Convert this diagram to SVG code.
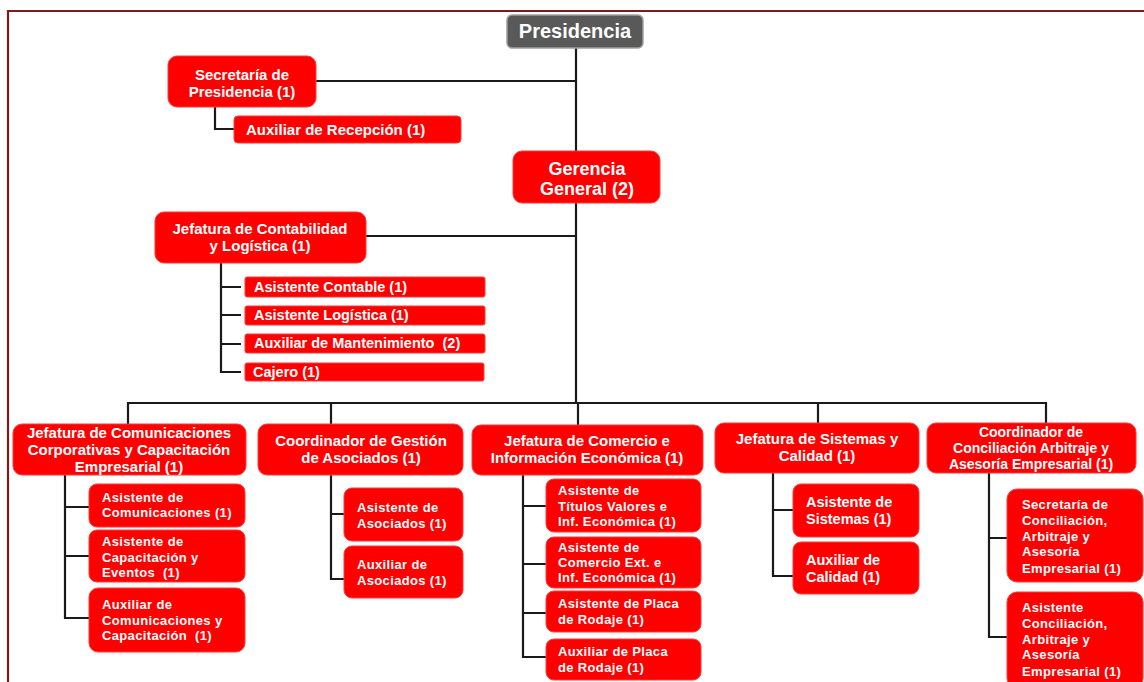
<svg xmlns="http://www.w3.org/2000/svg" width="1144" height="682" viewBox="0 0 1144 682">
<style>
.bg{fill:#ffffff}
.frame{fill:none;stroke:#7b1c1c;stroke-width:2.2}
.ln{fill:none;stroke:#1a1a1a;stroke-width:2.2}
.box{fill:#ff0000;stroke:#ff3a3a;stroke-width:1}
.pres{fill:#595959;stroke:#a0a0a0;stroke-width:1.5}
text{font-family:"Liberation Sans",Arial,sans-serif;font-weight:bold;fill:#ffffff}
.t15{font-size:15px;text-anchor:middle}
.t14{font-size:14px;text-anchor:middle}
.big{font-size:18px;text-anchor:middle}
.list{font-size:14.5px}
.sub{font-size:13px;letter-spacing:0.35px}
.sub2{font-size:14.5px}
</style>
<rect class="bg" x="0" y="0" width="1144" height="682"/>
<path class="frame" d="M8 682 V11 H1144"/>

<g id="connectors">
<path class="ln" d="M576 48 V403"/>
<path class="ln" d="M316 81 H576"/>
<path class="ln" d="M215 107 V129 H234"/>
<path class="ln" d="M366 236 H576"/>
<path class="ln" d="M221 263 V372 H241 M221 287 H241 M221 315 H241 M221 344 H241"/>
<path class="ln" d="M128 424 V403 H1046 V423"/>
<path class="ln" d="M331 403 V424"/>
<path class="ln" d="M578 403 V425"/>
<path class="ln" d="M818 403 V423"/>
<path class="ln" d="M65 475 V618 H89 M65 507 H89 M65 556 H89"/>
<path class="ln" d="M331 475 V579 H344 M331 514 H344"/>
<path class="ln" d="M523 475 V657 H546 M523 506 H546 M523 564 H546 M523 613 H546"/>
<path class="ln" d="M773 473 V576 H793 M773 510 H793"/>
<path class="ln" d="M989 473 V637 H1007 M989 538 H1007"/>
</g>

<g id="presidencia">
<rect class="pres" x="507" y="15" width="136" height="33" rx="5"/>
<text class="big" x="575" y="38" style="font-size:20px">Presidencia</text>
</g>

<g id="secretaria-presidencia">
<rect class="box" x="168" y="56" width="148" height="51" rx="9"/>
<text class="t15" x="242" y="80">Secretaría de</text>
<text class="t15" x="242" y="97">Presidencia (1)</text>
</g>

<g id="auxiliar-recepcion">
<rect class="box" x="234" y="116" width="227" height="27" rx="4"/>
<text class="list" x="246" y="135" style="font-size:15px">Auxiliar de Recepción (1)</text>
</g>

<g id="gerencia-general">
<rect class="box" x="513" y="151" width="147" height="52" rx="9"/>
<text class="big" x="587" y="175">Gerencia</text>
<text class="big" x="587" y="195">General (2)</text>
</g>

<g id="jefatura-contabilidad">
<rect class="box" x="155" y="212" width="211" height="51" rx="9"/>
<text class="t15" x="260" y="234">Jefatura de Contabilidad</text>
<text class="t15" x="260" y="251">y Logística (1)</text>
</g>

<g id="asistente-contable">
<rect class="box" x="245" y="277" width="240" height="20" rx="2"/>
<text class="list" x="254" y="292">Asistente Contable (1)</text>
</g>
<g id="asistente-logistica">
<rect class="box" x="245" y="306" width="240" height="19" rx="2"/>
<text class="list" x="254" y="320">Asistente Logística (1)</text>
</g>
<g id="auxiliar-mantenimiento">
<rect class="box" x="245" y="334" width="240" height="19" rx="2"/>
<text class="list" x="254" y="348">Auxiliar de Mantenimiento&#160; (2)</text>
</g>
<g id="cajero">
<rect class="box" x="245" y="363" width="239" height="18" rx="2"/>
<text class="list" x="253" y="377">Cajero (1)</text>
</g>

<g id="jefatura-comunicaciones">
<rect class="box" x="13" y="424" width="233" height="51" rx="9"/>
<text class="t15" x="129" y="438">Jefatura de Comunicaciones</text>
<text class="t15" x="129" y="455">Corporativas y Capacitación</text>
<text class="t15" x="129" y="472">Empresarial (1)</text>
</g>
<g id="asistente-comunicaciones">
<rect class="box" x="89" y="484" width="156" height="43" rx="8"/>
<text class="sub" x="102" y="502">Asistente de</text>
<text class="sub" x="102" y="517">Comunicaciones (1)</text>
</g>
<g id="asistente-capacitacion">
<rect class="box" x="89" y="530" width="156" height="52" rx="8"/>
<text class="sub" x="102" y="546">Asistente de</text>
<text class="sub" x="102" y="562">Capacitación y</text>
<text class="sub" x="102" y="577">Eventos&#160; (1)</text>
</g>
<g id="auxiliar-comunicaciones">
<rect class="box" x="89" y="588" width="156" height="64" rx="9"/>
<text class="sub" x="102" y="609">Auxiliar de</text>
<text class="sub" x="102" y="625">Comunicaciones y</text>
<text class="sub" x="102" y="640">Capacitación&#160; (1)</text>
</g>

<g id="coordinador-asociados">
<rect class="box" x="258" y="424" width="205" height="51" rx="9"/>
<text class="t15" x="361" y="446">Coordinador de Gestión</text>
<text class="t15" x="361" y="463">de Asociados (1)</text>
</g>
<g id="asistente-asociados">
<rect class="box" x="344" y="488" width="119" height="53" rx="8"/>
<text class="sub" x="357" y="512">Asistente de</text>
<text class="sub" x="357" y="528">Asociados (1)</text>
</g>
<g id="auxiliar-asociados">
<rect class="box" x="344" y="546" width="119" height="52" rx="8"/>
<text class="sub" x="357" y="569">Auxiliar de</text>
<text class="sub" x="357" y="585">Asociados (1)</text>
</g>

<g id="jefatura-comercio">
<rect class="box" x="472" y="425" width="231" height="50" rx="9"/>
<text class="t15" x="587" y="446">Jefatura de Comercio e</text>
<text class="t15" x="587" y="463">Información Económica (1)</text>
</g>
<g id="asistente-titulos">
<rect class="box" x="546" y="479" width="155" height="53" rx="8"/>
<text class="sub" x="558" y="495">Asistente de</text>
<text class="sub" x="558" y="511">Títulos Valores e</text>
<text class="sub" x="558" y="526">Inf. Económica (1)</text>
</g>
<g id="asistente-comercio-ext">
<rect class="box" x="546" y="537" width="155" height="51" rx="8"/>
<text class="sub" x="558" y="552">Asistente de</text>
<text class="sub" x="558" y="567">Comercio Ext. e</text>
<text class="sub" x="558" y="582">Inf. Económica (1)</text>
</g>
<g id="asistente-placa">
<rect class="box" x="546" y="591" width="155" height="41" rx="8"/>
<text class="sub" x="558" y="608">Asistente de Placa</text>
<text class="sub" x="558" y="624">de Rodaje (1)</text>
</g>
<g id="auxiliar-placa">
<rect class="box" x="546" y="639" width="155" height="41" rx="8"/>
<text class="sub" x="558" y="656">Auxiliar de Placa</text>
<text class="sub" x="558" y="672">de Rodaje (1)</text>
</g>

<g id="jefatura-sistemas">
<rect class="box" x="715" y="423" width="204" height="50" rx="9"/>
<text class="t15" x="817" y="444">Jefatura de Sistemas y</text>
<text class="t15" x="817" y="461">Calidad (1)</text>
</g>
<g id="asistente-sistemas">
<rect class="box" x="793" y="484" width="126" height="53" rx="8"/>
<text class="sub2" x="806" y="507">Asistente de</text>
<text class="sub2" x="806" y="524">Sistemas (1)</text>
</g>
<g id="auxiliar-calidad">
<rect class="box" x="793" y="542" width="126" height="52" rx="8"/>
<text class="sub2" x="806" y="565">Auxiliar de</text>
<text class="sub2" x="806" y="582">Calidad (1)</text>
</g>

<g id="coordinador-conciliacion">
<rect class="box" x="927" y="423" width="209" height="50" rx="9"/>
<text class="t14" x="1031" y="437">Coordinador de</text>
<text class="t14" x="1031" y="453">Conciliación Arbitraje y</text>
<text class="t14" x="1031" y="469">Asesoría Empresarial (1)</text>
</g>
<g id="secretaria-conciliacion">
<rect class="box" x="1007" y="489" width="136" height="93" rx="10"/>
<text class="sub" x="1022" y="509">Secretaría de</text>
<text class="sub" x="1022" y="525">Conciliación,</text>
<text class="sub" x="1022" y="541">Arbitraje y</text>
<text class="sub" x="1022" y="556">Asesoría</text>
<text class="sub" x="1022" y="573">Empresarial (1)</text>
</g>
<g id="asistente-conciliacion">
<rect class="box" x="1007" y="592" width="136" height="96" rx="10"/>
<text class="sub" x="1022" y="612">Asistente</text>
<text class="sub" x="1022" y="628">Conciliación,</text>
<text class="sub" x="1022" y="644">Arbitraje y</text>
<text class="sub" x="1022" y="659">Asesoría</text>
<text class="sub" x="1022" y="676">Empresarial (1)</text>
</g>
</svg>
